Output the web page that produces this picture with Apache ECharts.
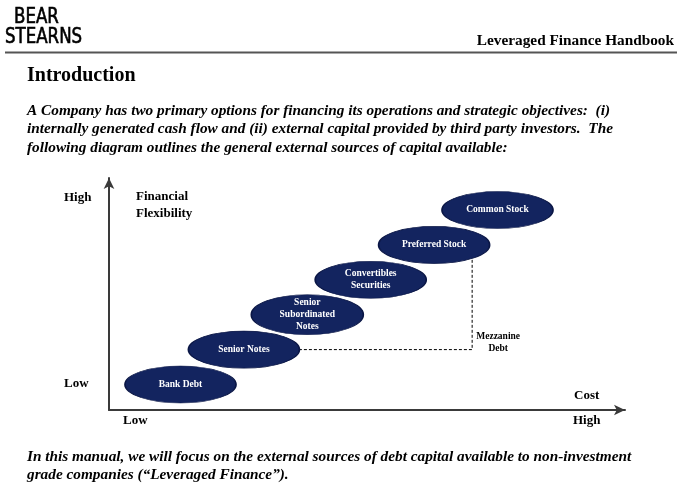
<!DOCTYPE html>
<html>
<head>
<meta charset="utf-8">
<script src="https://cdn.jsdelivr.net/npm/echarts@6/dist/echarts.min.js"></script>
<style>html,body{margin:0;padding:0;background:#fff}#c{width:680px;height:501px}</style>
</head>
<body>
<div id="c"></div>
<script>
// ---- data ----
var categories = ['Bank Debt', 'Senior Notes', 'Senior\nSubordinated\nNotes', 'Convertibles\nSecurities', 'Preferred Stock', 'Common Stock'];
var costRank = [1, 2, 3, 4, 5, 6];          // position along Cost axis
var flexibilityRank = [1, 2, 3, 4, 5, 6];   // position along Financial Flexibility axis
var mezzanineX = [2, 5.6, 5.6];             // dashed bracket (Senior Notes -> Preferred Stock)
var mezzanineY = [2, 2, 5];
var mezzanineLabel = 'Mezzanine\nDebt';
var introLines = [
  'A Company has two primary options for financing its operations and strategic objectives:  (i)',
  'internally generated cash flow and (ii) external capital provided by third party investors.  The',
  'following diagram outlines the general external sources of capital available:'
];
var outroLines = [
  'In this manual, we will focus on the external sources of debt capital available to non-investment',
  'grade companies (\u201cLeveraged Finance\u201d).'
];

var SERIF = '"Liberation Serif", "Times New Roman", serif';
var LOGO = '21px "DejaVu Sans Condensed", "DejaVu Sans", sans-serif';
var NAVY = '#13245f';

var bubbles = categories.map(function (c, i) {
  return { name: c, value: [costRank[i], flexibilityRank[i]], symbolSize: i === 2 ? [112, 40] : [111, 37] };
});
var mezz = mezzanineX.map(function (x, i) { return [x, mezzanineY[i]]; });

function txt(x, y, text, font, align, extra) {
  var o = { type: 'text', x: x, y: y, silent: true,
    style: { text: text, font: font, fill: '#000', textAlign: align || 'left', textVerticalAlign: 'middle' } };
  if (extra) for (var k in extra) {
    if (k === 'style') { for (var s in extra.style) o.style[s] = extra.style[s]; }
    else o[k] = extra[k];
  }
  return o;
}
var logoExtra = { scaleX: 0.88, style: { stroke: '#000', lineWidth: 0.6 } };

var graphics = [
  txt(14, 18, 'BEAR', LOGO, 'left', logoExtra),
  txt(5, 38, 'STEARNS', LOGO, 'left', logoExtra),
  txt(674, 41, 'Leveraged Finance Handbook', 'bold 15.3px ' + SERIF, 'right'),
  { type: 'rect', shape: { x: 5, y: 51.5, width: 672, height: 2 }, style: { fill: '#555' }, silent: true },
  txt(27, 76, 'Introduction', 'bold 20px ' + SERIF, 'left'),
  txt(64, 198, 'High', 'bold 13px ' + SERIF, 'left'),
  txt(64, 384, 'Low', 'bold 13px ' + SERIF, 'left'),
  txt(136, 197, 'Financial', 'bold 13px ' + SERIF, 'left'),
  txt(136, 214, 'Flexibility', 'bold 13px ' + SERIF, 'left'),
  txt(123, 421, 'Low', 'bold 13px ' + SERIF, 'left'),
  txt(573, 421, 'High', 'bold 13px ' + SERIF, 'left'),
  txt(574, 396, 'Cost', 'bold 13px ' + SERIF, 'left')
];
introLines.forEach(function (l, i) {
  graphics.push(txt(27, 111 + i * 18.5, l, 'italic bold 15.3px ' + SERIF, 'left'));
});
outroLines.forEach(function (l, i) {
  graphics.push(txt(27, 457 + i * 18.5, l, 'italic bold 15.3px ' + SERIF, 'left'));
});

var chart = echarts.init(document.getElementById('c'), null, { renderer: 'canvas' });
chart.setOption({
  backgroundColor: '#fff',
  animation: false,
  grid: { left: 109, right: 55, top: 178, bottom: 91 },
  xAxis: {
    type: 'value', min: -0.1278, max: 8.011,
    splitLine: { show: false }, axisTick: { show: false }, axisLabel: { show: false },
    axisLine: { show: true, onZero: false, symbol: ['none', 'arrow'], symbolSize: [8, 11],
      lineStyle: { color: '#3a3a3a', width: 2 } }
  },
  yAxis: {
    type: 'value', min: 0.2693, max: 6.917,
    splitLine: { show: false }, axisTick: { show: false }, axisLabel: { show: false },
    axisLine: { show: true, onZero: false, symbol: ['none', 'arrow'], symbolSize: [8, 11],
      lineStyle: { color: '#3a3a3a', width: 2 } }
  },
  series: [
    {
      type: 'line', data: mezz, z: 1, symbol: 'none', silent: true,
      lineStyle: { color: '#000', width: 1, type: [3, 2] },
      markPoint: {
        symbol: 'circle', symbolSize: 0, silent: true,
        data: [{ coord: mezz[1], value: mezzanineLabel }],
        label: { show: true, formatter: mezzanineLabel, position: [26, -7], align: 'center', verticalAlign: 'middle',
          fontFamily: SERIF, fontWeight: 'bold', fontSize: 9.5, lineHeight: 12, color: '#000' }
      }
    },
    {
      type: 'scatter', data: bubbles, z: 3, symbol: 'circle',
      itemStyle: { color: NAVY, opacity: 1, borderColor: '#0a1645', borderWidth: 1 },
      label: { show: true, position: 'inside', formatter: function (p) { return p.name; },
        fontFamily: SERIF, fontWeight: 'bold', fontSize: 9.5, lineHeight: 12, color: '#fff' },
      emphasis: { disabled: true }
    }
  ],
  graphic: graphics
});
</script>
</body>
</html>
